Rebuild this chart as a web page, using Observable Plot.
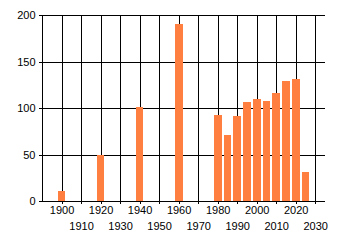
<!DOCTYPE html>
<html><head><meta charset="utf-8">
<script src="https://cdn.jsdelivr.net/npm/d3@7"></script>
<script src="https://cdn.jsdelivr.net/npm/@observablehq/plot@0.6"></script>
<style>html,body{margin:0;padding:0;background:#fff}</style>
</head><body><div id="chart"></div>
<script>
const years = [1900,1920,1940,1960,1980,1985,1990,1995,2000,2005,2010,2015,2020,2025];
const values = [11,50,101,190,93,71,91,106,110,107,116,129,131,31];
const xTicksUpper = [1900,1920,1940,1960,1980,2000,2020];
const xTicksLower = [1910,1930,1950,1970,1990,2010,2030];
const yTicks = [0,50,100,150,200];

const data = years.map((year, i) => ({year, value: values[i]}));
const allX = [...xTicksUpper, ...xTicksLower].sort((a, b) => a - b);
const crisp = {shapeRendering: "crispEdges"};

const chart = Plot.plot({
  width: 340, height: 245,
  marginLeft: 42, marginRight: 15, marginTop: 15, marginBottom: 44,
  style: {fontFamily: "'Liberation Sans', Arial, sans-serif", fontSize: "11px", color: "#000", background: "#fff", overflow: "visible"},
  x: {domain: [1890, 2035], label: null},
  y: {domain: [0, 200], label: null},
  marks: [
    Plot.ruleX(allX, {y1: 0, y2: 200, stroke: "#000", strokeWidth: 1, ...crisp}),
    Plot.ruleY(yTicks, {x1: 1890, x2: 2035, stroke: "#000", strokeWidth: 1, ...crisp}),
    Plot.rect(data, {x1: d => d.year - 2, x2: d => d.year + 2, y1: 0, y2: "value", fill: "#FF7F40", ...crisp}),
    Plot.ruleX([1890], {y1: 0, y2: 200, stroke: "#000", ...crisp}),
    Plot.ruleY([0], {x1: 1890, x2: 2035, stroke: "#000", ...crisp}),
    Plot.axisY({ticks: yTicks, tickSize: 3, tickPadding: 4, stroke: "#000", fill: "#000", label: null, ...crisp}),
    Plot.axisX({ticks: allX, tickSize: 3, text: null, stroke: "#000", label: null, ...crisp}),
    Plot.axisX({ticks: xTicksUpper, tickSize: 0, tickPadding: 5, fill: "#000", label: null, tickFormat: d => String(d)}),
    Plot.axisX({ticks: xTicksLower, tickSize: 0, tickPadding: 21, fill: "#000", label: null, tickFormat: d => String(d)})
  ]
});
document.getElementById("chart").append(chart);
</script>
</body></html>
